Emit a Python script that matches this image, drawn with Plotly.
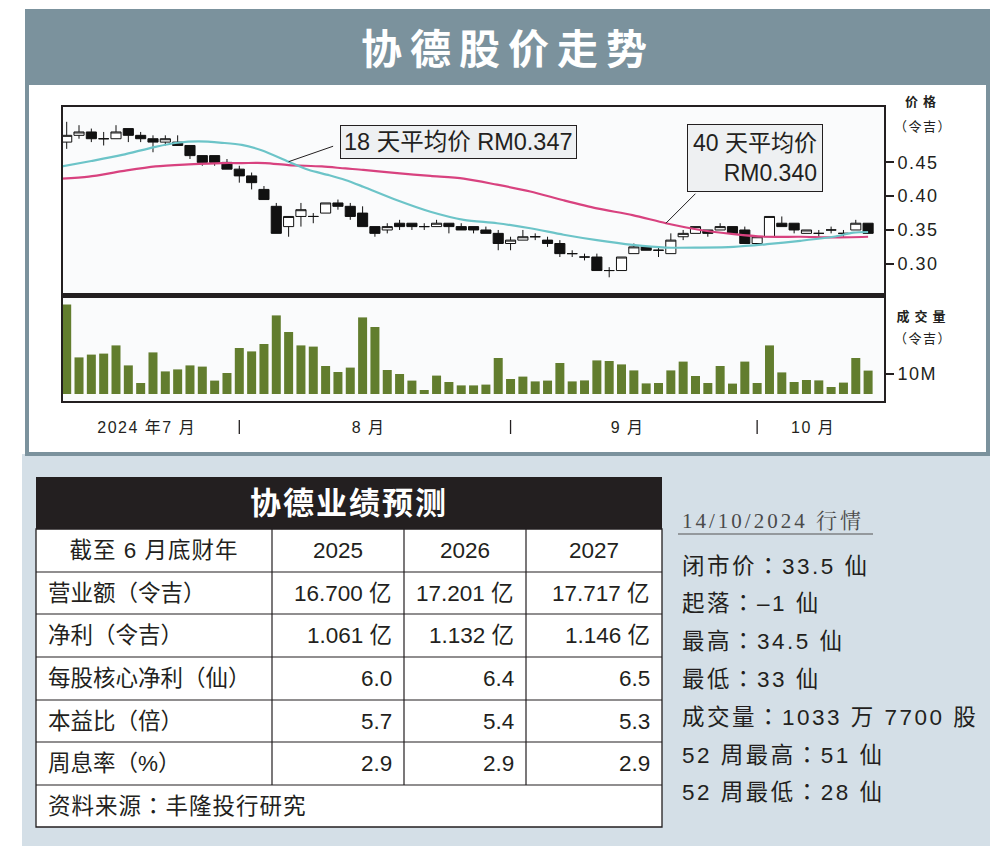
import json
import plotly.graph_objects as go

W, H = 1006, 846
def X(px): return px / W
def Y(py): return 1 - py / H

FONT = "Liberation Sans, Noto Sans CJK SC, sans-serif"
FONT_TC = "Liberation Sans, Noto Sans CJK TC, sans-serif"
SERIF = "Liberation Serif, Noto Serif CJK SC, Noto Sans CJK SC, serif"
INK = "#231f20"

# ---------------- data ----------------
n_days = 66
month_labels = ["2024 年7 月", "8 月", "9 月", "10 月"]
month_starts = [0, 14, 36, 56]          # index of first trading day of each month

open_ = [0.480, 0.490, 0.495, 0.485, 0.485, 0.500, 0.490, 0.485, 0.480, 0.480,
         0.475, 0.460, 0.460, 0.450, 0.440, 0.430, 0.410, 0.385, 0.355, 0.370,
         0.370, 0.375, 0.390, 0.385, 0.375, 0.355, 0.350, 0.360, 0.360, 0.355,
         0.355, 0.360, 0.355, 0.355, 0.350, 0.345, 0.330, 0.335, 0.340, 0.335,
         0.330, 0.315, 0.310, 0.310, 0.290, 0.290, 0.315, 0.325, 0.320, 0.315,
         0.340, 0.345, 0.350, 0.350, 0.355, 0.350, 0.330, 0.340, 0.360, 0.360,
         0.345, 0.345, 0.350, 0.345, 0.350, 0.360]
close_ = [0.490, 0.495, 0.485, 0.485, 0.495, 0.490, 0.485, 0.480, 0.485, 0.475,
          0.460, 0.450, 0.450, 0.440, 0.430, 0.420, 0.395, 0.345, 0.370, 0.380,
          0.370, 0.390, 0.385, 0.370, 0.355, 0.345, 0.355, 0.355, 0.355, 0.355,
          0.360, 0.355, 0.350, 0.350, 0.345, 0.330, 0.335, 0.340, 0.340, 0.330,
          0.315, 0.315, 0.310, 0.290, 0.290, 0.310, 0.325, 0.320, 0.320, 0.335,
          0.345, 0.355, 0.345, 0.355, 0.345, 0.330, 0.340, 0.370, 0.355, 0.350,
          0.350, 0.345, 0.350, 0.345, 0.360, 0.345]
high_ = [0.510, 0.505, 0.500, 0.495, 0.505, 0.500, 0.495, 0.490, 0.490, 0.490,
         0.475, 0.460, 0.460, 0.455, 0.445, 0.435, 0.415, 0.390, 0.370, 0.390,
         0.375, 0.390, 0.395, 0.390, 0.385, 0.355, 0.360, 0.365, 0.360, 0.360,
         0.365, 0.360, 0.360, 0.355, 0.355, 0.350, 0.340, 0.350, 0.345, 0.340,
         0.335, 0.320, 0.315, 0.315, 0.295, 0.310, 0.330, 0.325, 0.325, 0.345,
         0.350, 0.355, 0.350, 0.360, 0.355, 0.355, 0.340, 0.370, 0.370, 0.360,
         0.350, 0.350, 0.355, 0.350, 0.365, 0.360]
low_ = [0.470, 0.485, 0.480, 0.475, 0.485, 0.480, 0.480, 0.465, 0.475, 0.475,
        0.455, 0.445, 0.445, 0.440, 0.420, 0.410, 0.395, 0.345, 0.340, 0.355,
        0.360, 0.375, 0.380, 0.365, 0.355, 0.340, 0.345, 0.350, 0.350, 0.350,
        0.355, 0.345, 0.350, 0.345, 0.345, 0.320, 0.320, 0.335, 0.335, 0.325,
        0.310, 0.310, 0.305, 0.290, 0.280, 0.290, 0.315, 0.320, 0.310, 0.315,
        0.335, 0.345, 0.340, 0.350, 0.345, 0.330, 0.330, 0.340, 0.355, 0.345,
        0.345, 0.340, 0.345, 0.340, 0.350, 0.345]
volume_m = [44.7, 18.3, 19.7, 20.2, 24.3, 14.3, 5.5, 20.8, 11.3, 12.3,
            14.3, 13.7, 6.7, 10.5, 23.0, 21.3, 25.0, 39.3, 31.0, 24.3,
            23.7, 14.0, 11.0, 13.2, 38.3, 33.5, 12.0, 10.0, 6.7, 2.0,
            9.2, 6.0, 4.3, 4.3, 4.7, 18.0, 7.5, 8.7, 6.3, 6.7,
            15.5, 6.3, 6.8, 16.8, 16.5, 14.8, 11.8, 5.3, 5.5, 11.8,
            16.2, 9.0, 5.5, 14.0, 5.2, 16.2, 5.5, 24.3, 10.8, 6.0,
            7.0, 6.8, 3.5, 5.7, 18.0, 11.7]

# moving averages at these bar positions
ma18_x = [-0.4, 2, 4.5, 7.2, 9, 10.7, 12.6, 14.2, 15.8, 18, 19.6, 21.3, 22.6, 24.05,
          26.8, 29.5, 32.2, 34.9, 37.6, 40.3, 43.0, 45.9, 48.6, 51.4, 54.1, 56.8,
          59.5, 62.2, 63.8, 65]
ma18_y = [0.444, 0.452, 0.461, 0.473, 0.479, 0.481, 0.479, 0.476, 0.468, 0.451, 0.439,
          0.431, 0.424, 0.414, 0.394, 0.377, 0.365, 0.360, 0.3525, 0.343, 0.335, 0.328,
          0.324, 0.324, 0.325, 0.329, 0.334, 0.340, 0.346, 0.347]
ma40_x = [-0.4, 1.8, 4.5, 7.2, 9.9, 12.6, 14.2, 16.1, 18, 20.7, 22.6, 24.05, 26.8,
          29.5, 32.2, 34.9, 37.6, 40.3, 43.0, 45.9, 48.6, 51.4, 54.1, 56.8, 59.5,
          62.2, 65]
ma40_y = [0.426, 0.429, 0.437, 0.444, 0.447, 0.449, 0.449, 0.449, 0.446, 0.444, 0.441,
          0.439, 0.434, 0.430, 0.426, 0.417, 0.407, 0.394, 0.382, 0.372, 0.360, 0.350,
          0.344, 0.340, 0.340, 0.339, 0.340]
ma18_label = "18 天平均价 RM0.347"
ma40_label = "40 天平均价<br>RM0.340"

price_ticks = [0.30, 0.35, 0.40, 0.45]
vol_ticks = [10]
vol_tick_text = ["10M"]

chart_title = "协德股价走势"
table_title = "协德业绩预测"
table_head = ["截至 6 月底财年", "2025", "2026", "2027"]
table_rows = ["营业额（令吉）", "净利（令吉）", "每股核心净利（仙）", "本益比（倍）", "周息率（%）"]
fy2025 = ["16.700 亿", "1.061 亿", "6.0", "5.7", "2.9"]
fy2026 = ["17.201 亿", "1.132 亿", "6.4", "5.4", "2.9"]
fy2027 = ["17.717 亿", "1.146 亿", "6.5", "5.3", "2.9"]
table_source = "资料来源：丰隆投行研究"

quote_title = "14/10/2024 行情"
quote_lines = ["闭市价：33.5 仙", "起落：–1 仙", "最高：34.5 仙", "最低：33 仙",
               "成交量：1033 万 7700 股", "52 周最高：51 仙", "52 周最低：28 仙"]

# ---------------- layout constants (pixels) ----------------
PX_L, PX_R = 62, 885
PRICE_T, PRICE_B = 106, 294
VOL_T, VOL_B = 297, 402
X_RANGE = [-0.38, 66.37]

idx = list(range(n_days))
fig = go.Figure()

fig.add_trace(go.Scatter(x=ma40_x, y=ma40_y, mode="lines", xaxis="x", yaxis="y",
                         line=dict(color="#d8427f", width=2.2, shape="spline", smoothing=0.8),
                         hoverinfo="skip"))
fig.add_trace(go.Scatter(x=ma18_x, y=ma18_y, mode="lines", xaxis="x", yaxis="y",
                         line=dict(color="#6cc4c8", width=2.2, shape="spline", smoothing=0.8),
                         hoverinfo="skip"))
fig.add_trace(go.Candlestick(
    x=idx, open=open_, high=high_, low=low_, close=close_, xaxis="x", yaxis="y",
    increasing=dict(line=dict(color="#111111", width=1), fillcolor="white"),
    decreasing=dict(line=dict(color="#111111", width=1), fillcolor="#111111"),
    whiskerwidth=0, hoverinfo="skip"))
fig.add_trace(go.Bar(x=idx, y=volume_m, width=0.73, xaxis="x2", yaxis="y2",
                     marker=dict(color="#627d2e", line=dict(width=0)), hoverinfo="skip"))

shapes = []
def rect(x0, y0, x1, y1, fill=None, line_color=None, lw=0, layer="below"):
    shapes.append(dict(type="rect", xref="paper", yref="paper",
                       x0=X(x0), x1=X(x1), y0=Y(y1), y1=Y(y0),
                       fillcolor=fill if fill else "rgba(0,0,0,0)",
                       line=dict(color=line_color or "rgba(0,0,0,0)", width=lw), layer=layer))
def hline(x0, x1, y, color=INK, lw=1.2):
    shapes.append(dict(type="line", xref="paper", yref="paper", x0=X(x0), x1=X(x1),
                       y0=Y(y), y1=Y(y), line=dict(color=color, width=lw), layer="above"))
def vline(x, y0, y1, color=INK, lw=1.2):
    shapes.append(dict(type="line", xref="paper", yref="paper", x0=X(x), x1=X(x),
                       y0=Y(y0), y1=Y(y1), line=dict(color=color, width=lw), layer="above"))

# backgrounds
rect(22, 454, 990, 846, fill="#d4dfe7")
rect(27, 11, 988, 454, fill="white", line_color="#7b929d", lw=4)
rect(25, 9, 990, 85, fill="#7b929d")
rect(PX_L, PRICE_T, PX_R, PRICE_B, fill="#fafbfc")
rect(PX_L, VOL_T, PX_R, VOL_B, fill="#fafbfc")
# frames
rect(PX_L, PRICE_T, PX_R, PRICE_B, line_color=INK, lw=2, layer="above")
rect(PX_L, VOL_T, PX_R, VOL_B, line_color=INK, lw=2, layer="above")
rect(PX_L - 1, 293, PX_R + 1, 298, fill=INK, layer="above")
# month separators
for s in month_starts[1:]:
    shapes.append(dict(type="line", xref="x2", yref="paper", x0=s, x1=s,
                       y0=Y(434), y1=Y(420), line=dict(color=INK, width=1.3)))

# table
col_b = [36, 272, 404, 526, 662]
row_b = [529, 572, 614, 657, 700, 742, 785, 827]
rect(col_b[0], 477, col_b[-1], row_b[0], fill=INK)
rect(col_b[0], row_b[0], col_b[-1], row_b[-1], fill="white", line_color=INK, lw=1.3, layer="above")
for yb in row_b[1:-1]:
    hline(col_b[0], col_b[-1], yb)
for xb in col_b[1:-1]:
    vline(xb, row_b[0], row_b[-2])
hline(678, 873, 534, color="#555555", lw=1.2)

annotations = []
spacing = {}
def txt(x, y, text, size, color=INK, xanchor="center", yanchor="middle", ls=0,
        family=FONT, xref="paper", yref="paper", **kw):
    if ls:
        spacing[len(annotations)] = ls
    align = {"left": "left", "right": "right"}.get(xanchor, "center")
    annotations.append(dict(x=x, y=y, xref=xref, yref=yref, text=text, showarrow=False,
                            xanchor=xanchor, yanchor=yanchor, align=align,
                            font=dict(size=size, color=color, family=family), **kw))

# chart title
txt(X(508), Y(46), "<b>" + chart_title + "</b>", 41, color="white", ls=8,
    family="Noto Sans CJK SC, sans-serif")
# axis captions
txt(X(923), Y(102), "<b>价格</b>", 13, ls=5)
txt(X(923), Y(126), "（令吉）", 13, ls=1.5)
txt(X(923), Y(316), "<b>成交量</b>", 13, ls=5)
txt(X(923), Y(338), "（令吉）", 13, ls=1.5)

# callout pointers (head on the moving-average lines)
annotations.append(dict(x=ma18_x[9], y=ma18_y[9], xref="x", yref="y", text="", showarrow=True,
                        arrowhead=0, arrowwidth=1, arrowcolor=INK, ax=46, ay=-16))
annotations.append(dict(x=ma40_x[20], y=ma40_y[20], xref="x", yref="y", text="", showarrow=True,
                        arrowhead=0, arrowwidth=1, arrowcolor=INK, ax=31, ay=-31))
txt(X(458), Y(141.5), ma18_label, 23.5, bgcolor="#eef0f2", bordercolor=INK,
    borderwidth=1, borderpad=3)
annotations.append(dict(x=X(754.5), y=Y(158.5), xref="paper", yref="paper", text=ma40_label,
                        showarrow=False, xanchor="center", yanchor="middle", align="right",
                        font=dict(size=23, color=INK, family=FONT), bgcolor="#eef0f2",
                        bordercolor=INK, borderwidth=1, borderpad=5))

# month labels (centred on each month's bars)
for k, lab in enumerate(month_labels):
    end = (month_starts[k + 1] - 1) if k + 1 < len(month_starts) else n_days - 1
    txt((month_starts[k] + end) / 2, Y(427), lab, 16, xref="x2", ls=1.5)

# table text
TS = 22.5
txt(X((col_b[0] + col_b[-1]) / 2), Y(503), "<b>" + table_title + "</b>", 31, color="white", ls=2)
ymid = [(row_b[i] + row_b[i + 1]) / 2 for i in range(len(row_b) - 1)]
txt(X((col_b[0] + col_b[1]) / 2), Y(ymid[0]), table_head[0], TS, ls=1)
for j in range(1, 4):
    txt(X((col_b[j] + col_b[j + 1]) / 2), Y(ymid[0]), table_head[j], TS)
for r, lab in enumerate(table_rows):
    txt(X(col_b[0] + 10), Y(ymid[r + 1]), lab, TS, xanchor="left")
    for j, col in enumerate([fy2025, fy2026, fy2027]):
        txt(X(col_b[j + 2] - 10), Y(ymid[r + 1]), col[r], TS, xanchor="right")
txt(X(col_b[0] + 10), Y(ymid[-1]), table_source, TS, xanchor="left", ls=1, family=FONT_TC)

# quote block
txt(X(680), Y(521), quote_title, 21, color="#4a4a4a", xanchor="left", family=SERIF, ls=3)
for k, line in enumerate(quote_lines):
    txt(X(680), Y(566 + k * 37.8), line, 22.5, xanchor="left", ls=2.5, family=FONT_TC)

fig.update_layout(
    width=W, height=H, margin=dict(l=0, r=0, t=0, b=0),
    paper_bgcolor="white", plot_bgcolor="rgba(0,0,0,0)",
    showlegend=False, hovermode=False, boxgap=0.18, boxgroupgap=0,
    font=dict(family=FONT, color=INK),
    shapes=shapes, annotations=annotations,
    xaxis=dict(domain=[X(PX_L), X(PX_R)], range=X_RANGE, anchor="y", showgrid=False,
               zeroline=False, showticklabels=False, ticks="", rangeslider=dict(visible=False),
               fixedrange=True),
    yaxis=dict(domain=[Y(PRICE_B), Y(PRICE_T)], range=[0.2553, 0.5334], anchor="x",
               side="right", showgrid=False, zeroline=False, ticks="outside", ticklen=8,
               tickwidth=1.5, tickcolor=INK, tickvals=price_ticks,
               ticktext=["%.2f" % v for v in price_ticks],
               tickfont=dict(size=18, color=INK, family=FONT), fixedrange=True),
    xaxis2=dict(domain=[X(PX_L), X(PX_R)], range=X_RANGE, anchor="y2", showgrid=False,
                zeroline=False, showticklabels=False, ticks="", fixedrange=True),
    yaxis2=dict(domain=[Y(VOL_B), Y(VOL_T)], range=[-4, 48.5], anchor="x2",
                side="right", showgrid=False, zeroline=False, ticks="outside", ticklen=8,
                tickwidth=1.5, tickcolor=INK, tickvals=vol_ticks, ticktext=vol_tick_text,
                tickfont=dict(size=18, color=INK, family=FONT), fixedrange=True),
)

post = """
document.body.style.margin = '0';
var ls = %s;
document.querySelectorAll('g.annotation').forEach(function(g){
  var i = g.getAttribute('data-index');
  if (ls[i] !== undefined) {
    g.querySelectorAll('text').forEach(function(t){ t.style.letterSpacing = ls[i] + 'px'; });
  }
});
document.querySelectorAll('.yaxislayer-above text').forEach(function(t){ t.style.letterSpacing = '1.5px'; });
""" % json.dumps({str(k): v for k, v in spacing.items()})

fig.write_html("out.html", post_script=post, config={"displayModeBar": False})
